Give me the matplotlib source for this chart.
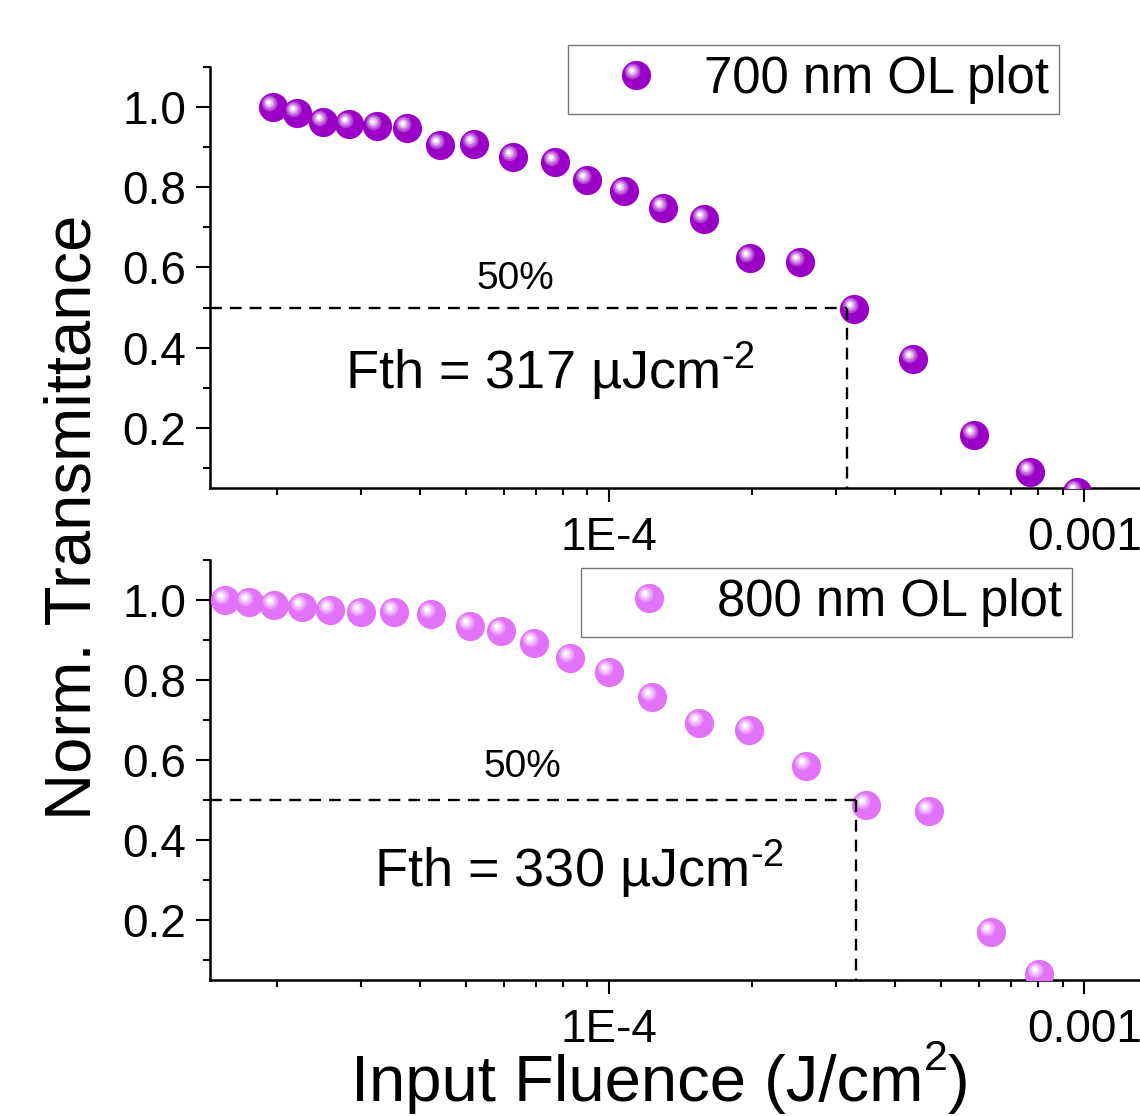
import numpy as np
import matplotlib
matplotlib.use("Agg")
import matplotlib.pyplot as plt
from matplotlib.path import Path
from matplotlib.colors import to_rgb
from matplotlib.legend_handler import HandlerTuple
from matplotlib.ticker import (FixedLocator, FixedFormatter, LogLocator,
                               MultipleLocator, NullFormatter, FormatStrFormatter)

plt.rcParams['font.family'] = ['Liberation Sans', 'DejaVu Sans']
plt.rcParams['mathtext.fontset'] = 'custom'
plt.rcParams['mathtext.rm'] = 'Liberation Sans'
plt.rcParams['mathtext.it'] = 'Liberation Sans:italic'
plt.rcParams['mathtext.bf'] = 'Liberation Sans:bold'

# optical limiting data, 700 nm
fluence_700 = [1.96e-5, 2.2e-5, 2.5e-5, 2.83e-5, 3.25e-5, 3.75e-5, 4.4e-5,
               5.2e-5, 6.27e-5, 7.7e-5, 9.0e-5, 1.074e-4, 1.30e-4, 1.585e-4,
               1.98e-4, 2.52e-4, 3.28e-4, 4.35e-4, 5.85e-4, 7.7e-4, 9.64e-4]
trans_700 = [1.0, 0.986, 0.963, 0.957, 0.953, 0.948, 0.906, 0.909, 0.875,
             0.863, 0.819, 0.79, 0.748, 0.721, 0.623, 0.613, 0.497, 0.371,
             0.182, 0.09, 0.04]
fth_700 = 317e-6

# optical limiting data, 800 nm
fluence_800 = [1.557e-5, 1.745e-5, 1.97e-5, 2.26e-5, 2.59e-5, 3.0e-5, 3.53e-5,
               4.21e-5, 5.09e-5, 5.91e-5, 6.95e-5, 8.28e-5, 1.0e-4, 1.23e-4,
               1.545e-4, 1.97e-4, 2.59e-4, 3.47e-4, 4.72e-4, 6.37e-4, 8.04e-4]
trans_800 = [1.0, 0.995, 0.987, 0.983, 0.975, 0.971, 0.971, 0.966, 0.936,
             0.922, 0.893, 0.855, 0.819, 0.757, 0.692, 0.674, 0.586, 0.488,
             0.472, 0.171, 0.066]
fth_800 = 330e-6

xticks = [1e-4, 1e-3]
xticklabels = ['1E-4', '0.001']


def disc(cx, cy, r):
    # two bare moveto points pin the marker scale to the unit circle
    c = Path.circle((cx, cy), r)
    verts = np.vstack([[-1, -1], [1, 1], c.vertices])
    codes = np.concatenate([[Path.MOVETO, Path.MOVETO], c.codes])
    return Path(verts, codes)


def tint(color, f):
    c = np.array(to_rgb(color))
    return tuple(c + (1 - c) * f)


def balls(ax, x, y, color, label, ms=21):
    layers = [('o', color),
              (disc(-0.26, 0.28, 0.54), tint(color, 0.25)),
              (disc(-0.28, 0.30, 0.42), tint(color, 0.48)),
              (disc(-0.30, 0.32, 0.29), tint(color, 0.74)),
              (disc(-0.32, 0.34, 0.15), 'white')]
    hs = []
    for m, c in layers:
        h, = ax.plot(x, y, ls='none', marker=m, ms=ms, mfc=c, mec='none',
                     mew=0, zorder=3)
        hs.append(h)
    return tuple(hs), label


def threshold(ax, fth, ytext_pct, xpct, xf, yf):
    x0, _ = ax.get_xlim()
    y0, _ = ax.get_ylim()
    dash = (0, (5.0, 3.4))
    ax.plot([x0, fth], [0.5, 0.5], color='black', lw=1.7, ls=dash, zorder=4)
    ax.plot([fth, fth], [0.5, y0], color='black', lw=1.7, ls=dash, zorder=4)
    ax.text(xpct, ytext_pct, '50%', fontsize=28, ha='left', va='baseline')
    ax.text(xf, yf, 'Fth = %d \u00b5Jcm$^{\\text{-2}}$' % round(fth * 1e6),
            fontsize=39, ha='left', va='baseline')


W, H = 1140, 1116
fig = plt.figure(figsize=(W / 100, H / 100), dpi=100)
ax1 = fig.add_axes([210 / W, 1 - 488 / H, 930 / W, 421 / H])
ax2 = fig.add_axes([210 / W, 1 - 980 / H, 930 / W, 420 / H])

for ax in (ax1, ax2):
    ax.set_xscale('log')
    ax.set_xlim(1.445e-5, 1.31e-3)
    ax.set_ylim(0.05, 1.1)
    ax.spines['top'].set_visible(False)
    ax.spines['right'].set_visible(False)
    for s in ('left', 'bottom'):
        ax.spines[s].set_linewidth(1.8)
    ax.xaxis.set_major_locator(FixedLocator(xticks))
    ax.xaxis.set_major_formatter(FixedFormatter(xticklabels))
    ax.xaxis.set_minor_locator(LogLocator(base=10, subs=np.arange(2, 10)))
    ax.xaxis.set_minor_formatter(NullFormatter())
    ax.yaxis.set_major_locator(MultipleLocator(0.2))
    ax.yaxis.set_minor_locator(MultipleLocator(0.1))
    ax.yaxis.set_major_formatter(FormatStrFormatter('%.1f'))
    ax.tick_params(which='major', direction='out', length=10, width=1.5,
                   labelsize=33)
    ax.tick_params(which='minor', direction='out', length=5, width=1.5)
    ax.tick_params(axis='y', pad=7)
    ax.tick_params(axis='x', pad=10)

h1, l1 = balls(ax1, fluence_700, trans_700, '#9B00C6', '700 nm OL plot')
h2, l2 = balls(ax2, fluence_800, trans_800, '#E272F7', '800 nm OL plot')

threshold(ax1, fth_700, 0.546, 5.26e-5, 2.78e-5, 0.297)
threshold(ax2, fth_800, 0.557, 5.43e-5, 3.2e-5, 0.284)

leg_kw = dict(handler_map={tuple: HandlerTuple(ndivide=1, pad=0)},
              fontsize=36.5, frameon=True, fancybox=False, loc='upper left',
              bbox_transform=fig.transFigure, handlelength=2.3,
              handletextpad=0.18, borderpad=0.2, borderaxespad=0)
lg1 = ax1.legend([h1], [l1], bbox_to_anchor=(568 / W, 1 - 45 / H), **leg_kw)
lg2 = ax2.legend([h2], [l2], bbox_to_anchor=(581 / W, 1 - 568 / H), **leg_kw)
for lg in (lg1, lg2):
    fr = lg.get_frame()
    fr.set_edgecolor('#555555')
    fr.set_linewidth(1.0)
    lg.set_zorder(5)

fig.text(74 / W, 1 - 517 / H, 'Norm. Transmittance', rotation=90,
         fontsize=47, ha='center', va='center')

# x label with a raised "2", pieced together and centred under the axes
r = fig.canvas.get_renderer()
base_y = 1 - 1101 / H
parts = [('Input Fluence (J/cm', 47, 0.0), ('2', 31, 31.0), (')', 47, 0.0)]
texts = [fig.text(0, base_y, s, fontsize=fs, ha='left', va='baseline')
         for s, fs, _ in parts]
widths = [t.get_window_extent(r).width for t in texts]
x = 660 - sum(widths) / 2
for t, (_, _, dy), w in zip(texts, parts, widths):
    t.set_position((x / W, base_y + dy / H))
    x += w

fig.savefig('out.png', dpi=100)
